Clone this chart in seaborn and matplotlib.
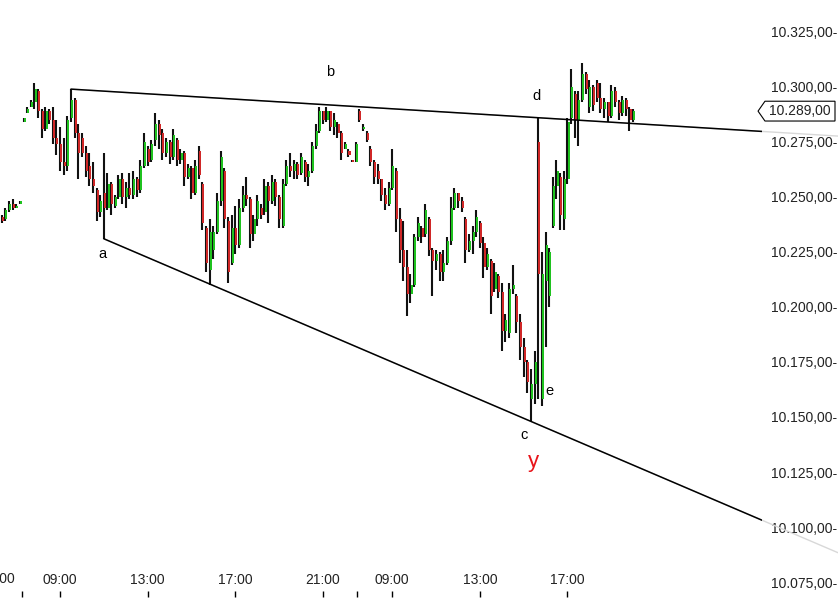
import numpy as np
import matplotlib
matplotlib.use("Agg")
import matplotlib.pyplot as plt
import matplotlib.transforms as mtransforms
from matplotlib.patches import Polygon
import seaborn as sns

# candles, one per bar (bar index = position on x axis)
opens = [10241, 10240, 10244, 10247, 10245, 10247, 10284, 10288, 10291, 10293,
         10298, 10289, 10281, 10289, 10285, 10277, 10274, 10266, 10264, 10286,
         10294, 10279, 10277, 10270, 10264, 10258, 10253, 10243, 10252, 10245,
         10256, 10246, 10250, 10258, 10250, 10254, 10251, 10258, 10253, 10264,
         10272, 10267, 10276, 10283, 10279, 10270, 10275, 10268, 10276, 10267,
         10270, 10259, 10263, 10252, 10271, 10256, 10236, 10217, 10226, 10234,
         10248, 10262, 10239, 10220, 10236, 10228, 10245, 10251, 10249, 10233,
         10240, 10245, 10243, 10255, 10248, 10257, 10250, 10237, 10256, 10264,
         10262, 10265, 10261, 10266, 10259, 10262, 10273, 10280, 10289, 10285,
         10289, 10282, 10283, 10279, 10272, 10271, 10267, 10266, 10289, 10281,
         10279, 10272, 10266, 10262, 10258, 10251, 10247, 10254, 10262, 10240,
         10226, 10218, 10206, 10210, 10232, 10236, 10233, 10240, 10226, 10221,
         10224, 10216, 10220, 10230, 10245, 10252, 10248, 10240, 10226, 10230,
         10234, 10238, 10229, 10218, 10221, 10208, 10214, 10207, 10189, 10188,
         10208, 10205, 10193, 10182, 10175, 10158, 10165, 10275, 10158, 10212,
         10205, 10237, 10255, 10259, 10240, 10258, 10286, 10297, 10285, 10294,
         10306, 10291, 10300, 10302, 10295, 10290, 10293, 10287, 10298, 10293,
         10288, 10294, 10290, 10285]
highs = [10242, 10245, 10248, 10249, 10247, 10248, 10286, 10291, 10294, 10302,
         10299, 10290, 10291, 10290, 10291, 10285, 10282, 10277, 10287, 10299,
         10295, 10283, 10279, 10273, 10270, 10266, 10254, 10251, 10270, 10261,
         10257, 10251, 10260, 10261, 10257, 10261, 10262, 10259, 10267, 10279,
         10273, 10276, 10288, 10285, 10281, 10277, 10276, 10281, 10277, 10272,
         10271, 10265, 10264, 10267, 10273, 10257, 10237, 10240, 10237, 10252,
         10271, 10263, 10241, 10242, 10246, 10249, 10255, 10259, 10250, 10242,
         10251, 10247, 10258, 10257, 10260, 10258, 10251, 10258, 10267, 10270,
         10267, 10266, 10270, 10267, 10265, 10275, 10283, 10291, 10289, 10291,
         10289, 10288, 10284, 10280, 10275, 10272, 10267, 10275, 10290, 10283,
         10280, 10273, 10267, 10265, 10258, 10254, 10257, 10272, 10263, 10245,
         10239, 10226, 10215, 10233, 10241, 10237, 10247, 10241, 10227, 10226,
         10225, 10226, 10232, 10250, 10254, 10252, 10250, 10241, 10233, 10237,
         10244, 10239, 10232, 10227, 10222, 10220, 10215, 10211, 10197, 10211,
         10219, 10206, 10197, 10186, 10176, 10172, 10180, 10286, 10225, 10234,
         10227, 10259, 10267, 10261, 10262, 10286, 10308, 10298, 10298, 10311,
         10307, 10303, 10301, 10303, 10302, 10295, 10293, 10301, 10300, 10294,
         10296, 10295, 10291, 10290]
lows = [10238, 10239, 10243, 10244, 10245, 10247, 10284, 10288, 10291, 10290,
        10286, 10277, 10280, 10283, 10274, 10269, 10262, 10260, 10262, 10284,
        10277, 10258, 10268, 10259, 10255, 10252, 10239, 10241, 10231, 10244,
        10242, 10245, 10249, 10247, 10245, 10249, 10249, 10250, 10252, 10263,
        10264, 10266, 10273, 10272, 10267, 10268, 10265, 10267, 10264, 10265,
        10255, 10258, 10249, 10251, 10258, 10235, 10216, 10210, 10222, 10233,
        10246, 10236, 10211, 10219, 10224, 10227, 10243, 10246, 10227, 10230,
        10237, 10240, 10242, 10238, 10247, 10246, 10236, 10236, 10255, 10259,
        10258, 10258, 10260, 10257, 10255, 10261, 10272, 10279, 10283, 10284,
        10280, 10278, 10277, 10267, 10272, 10268, 10266, 10266, 10284, 10280,
        10275, 10264, 10256, 10256, 10248, 10244, 10246, 10253, 10234, 10220,
        10212, 10196, 10202, 10209, 10230, 10229, 10232, 10223, 10205, 10217,
        10212, 10212, 10219, 10228, 10244, 10245, 10243, 10220, 10225, 10224,
        10232, 10227, 10213, 10217, 10197, 10207, 10204, 10180, 10184, 10186,
        10206, 10188, 10176, 10168, 10161, 10148, 10156, 10158, 10155, 10182,
        10200, 10236, 10249, 10235, 10235, 10256, 10283, 10277, 10273, 10293,
        10297, 10288, 10289, 10293, 10288, 10286, 10284, 10286, 10291, 10285,
        10287, 10287, 10280, 10284]
closes = [10239, 10244, 10247, 10245, 10246, 10248, 10286, 10290, 10293, 10299,
          10289, 10281, 10289, 10285, 10277, 10274, 10266, 10264, 10285, 10294,
          10279, 10270, 10270, 10262, 10258, 10255, 10243, 10248, 10245, 10256,
          10247, 10250, 10258, 10250, 10254, 10251, 10258, 10253, 10264, 10275,
          10266, 10274, 10283, 10278, 10270, 10275, 10268, 10278, 10267, 10270,
          10259, 10263, 10252, 10264, 10260, 10238, 10220, 10234, 10234, 10248,
          10268, 10240, 10216, 10236, 10228, 10245, 10251, 10249, 10233, 10240,
          10248, 10242, 10255, 10248, 10257, 10250, 10240, 10256, 10264, 10262,
          10265, 10260, 10268, 10259, 10262, 10273, 10280, 10289, 10285, 10289,
          10282, 10285, 10279, 10270, 10274, 10269, 10266, 10274, 10285, 10282,
          10276, 10266, 10259, 10258, 10251, 10247, 10254, 10264, 10240, 10226,
          10218, 10206, 10210, 10232, 10238, 10232, 10244, 10226, 10221, 10224,
          10216, 10220, 10230, 10245, 10252, 10248, 10245, 10226, 10230, 10234,
          10241, 10229, 10218, 10224, 10205, 10216, 10207, 10189, 10194, 10208,
          10210, 10193, 10182, 10175, 10166, 10165, 10175, 10215, 10215, 10228,
          10225, 10255, 10262, 10242, 10258, 10284, 10300, 10285, 10294, 10306,
          10299, 10300, 10292, 10295, 10290, 10293, 10287, 10298, 10293, 10288,
          10294, 10290, 10285, 10289]

# time axis (bar index) ticks
tick_pos = [5.6, 16, 40, 64, 88, 97.4, 107, 131, 155]
tick_labels = ["", "09:00", "13:00", "17:00", "21:00", "", "09:00", "13:00", "17:00"]
price_ticks = [10075, 10100, 10125, 10150, 10175, 10200, 10225, 10250, 10275, 10300, 10325]

# trend lines: two anchor points each (bar index, price)
upper_x = [19, 147]
upper_p = [10299, 10286]
lower_x = [28, 145]
lower_p = [10231, 10148]

# wave labels
wave_labels = ["a", "b", "c", "d", "e"]
wave_x = [27.5, 90, 143, 146.5, 150]
wave_p = [10224, 10307, 10142, 10296, 10162]


def de_fmt(v):
    s = f"{v:,.2f}"
    return s.replace(",", "X").replace(".", ",").replace("X", ".")


sns.set_theme(style="white")
plt.rcParams["font.family"] = ["Liberation Sans", "DejaVu Sans"]

fig = plt.figure(figsize=(8.38, 6.10), dpi=100)
ax = fig.add_axes([0, 13 / 610, 762 / 838, 597 / 610])

x = np.arange(len(closes))
o = np.array(opens)
c = np.array(closes)
up = c >= o
body_col = np.where(up, "#1fc21f", "#d02727")

ax.vlines(x, lows, highs, color="#111111", lw=1.5, zorder=2)
ax.bar(x + 0.3, np.maximum(np.abs(c - o), 0.8), bottom=np.minimum(o, c),
       width=0.55, color=body_col, linewidth=0, zorder=3)

x_end = 230
for xs, ps in [(upper_x, upper_p), (lower_x, lower_p)]:
    slope = (ps[1] - ps[0]) / (xs[1] - xs[0])
    xe = [xs[0], x_end]
    pe = [ps[0], ps[0] + slope * (x_end - xs[0])]
    ax.plot(xe, pe, color="#d8d8d8", lw=1.0, clip_on=False, zorder=1)
    ax.plot(xe, pe, color="black", lw=1.1, zorder=4)

for lab, wx, wp in zip(wave_labels, wave_x, wave_p):
    ax.text(wx, wp, lab, fontsize=10.5, color="black", ha="center", va="center")
ax.text(145.6, 10130, "y", fontsize=16, color="#e8141a", ha="center", va="center")

ax.set_xlim(-0.44, 208.3)
ax.set_ylim(10068.2, 10339.5)

ax.set_xticks(tick_pos, tick_labels)
ax.tick_params(axis="x", bottom=True, direction="in", length=4.5, width=1,
               color="black", pad=-17, labelsize=10, labelcolor="#222222")
ax.text(-1.0, 0.03, "21:00", transform=mtransforms.blended_transform_factory(ax.transData, ax.transAxes),
        fontsize=10, color="#222222", ha="center", va="center", clip_on=False)

ax.yaxis.tick_right()
ax.set_yticks(price_ticks, [de_fmt(v) + "-" for v in price_ticks])
ax.tick_params(axis="y", length=0, pad=6.5, labelsize=10, labelcolor="#222222",
               left=False, right=False, labelright=True, labelleft=False)
ax.grid(False)
sns.despine(ax=ax, left=True, bottom=True, right=True, top=True)

# last price tag
last = closes[-1]
tr = mtransforms.blended_transform_factory(ax.transAxes, ax.transData)
tag = Polygon([(0.9948, last), (1.0039, last + 4.5), (1.0958, last + 4.5),
               (1.0958, last - 4.5), (1.0039, last - 4.5)], closed=True,
              facecolor="white", edgecolor="black", lw=0.8, transform=tr, clip_on=False, zorder=5)
ax.add_patch(tag)
ax.text(1.050, last, de_fmt(last), transform=tr, fontsize=10, color="#222222",
        ha="center", va="center", zorder=6)

fig.savefig("out.png", dpi=100, facecolor="white")
